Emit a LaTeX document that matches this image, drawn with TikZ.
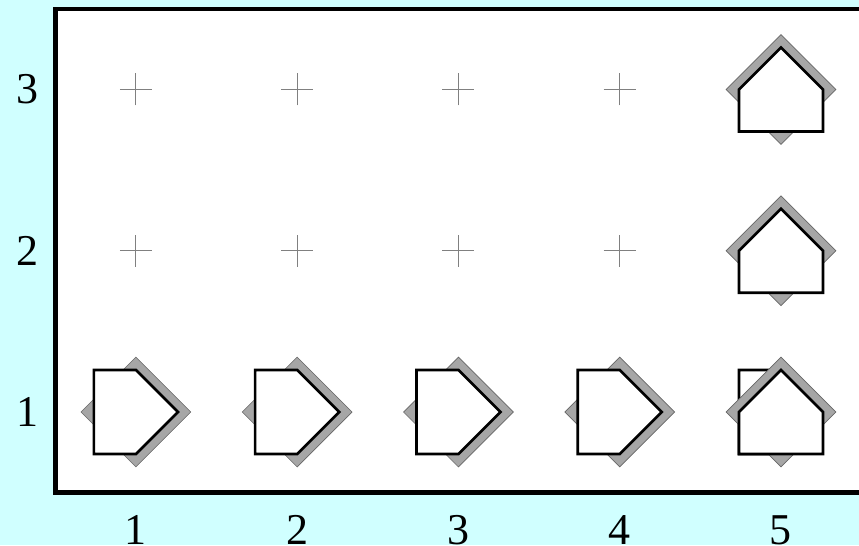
\documentclass[tikz,border=0pt]{standalone}
\usepackage{fontspec}
\setmainfont{Liberation Serif}
\usetikzlibrary{shapes.geometric}
\definecolor{bgcyan}{RGB}{208,255,255}
\definecolor{shade}{RGB}{166,166,166}

\begin{document}
\begin{tikzpicture}[
  x=161.25pt, y=161.25pt,
  board/.style={line width=4.5pt, fill=white},
  shadowbox/.style={diamond, draw=black!60, fill=shade, line width=0.6pt,
                    inner sep=0pt, minimum size=110pt},
  tick/.style={draw=black!50, line width=1pt},
  lab/.style={inner sep=0pt, font=\fontsize{44}{48}\selectfont},
  house/.pic={\draw[fill=white, line width=2.6pt, line join=miter]
    (-42pt,-42pt) -- (42pt,-42pt) -- (42pt,0pt) -- (0pt,42pt)
    -- (-42pt,0pt) -- cycle;}]
\useasboundingbox[fill=bgcyan] (0.157,0.175) rectangle (5.484,3.555);
\clip (0.157,0.175) rectangle (5.484,3.555);
\draw[board] (0.5,0.5) rectangle (5.6,3.5);
% empty cells
\foreach \i in {1,...,4}
  \foreach \j in {2,3}
    \draw[tick] (\i,\j) ++(-16pt,0) -- ++(32pt,0)
                (\i,\j) ++(0,-16pt) -- ++(0,32pt);
% bottom row, pointing right
\foreach \i in {1,...,4} {
  \node[shadowbox] (s\i1) at (\i,1) {};
  \pic[rotate=-90] at (\i,1) {house};
}
% last column, pointing up
\pic[rotate=-90] at (5,1) {house};
\foreach \j in {1,2,3} {
  \node[shadowbox] (s5\j) at (5,\j) {};
  \pic at (5,\j) {house};
}
% axis labels
\foreach \i in {1,...,5}
  \node[lab] (col\i) at (\i,0.268) {\i};
\foreach \j in {1,2,3}
  \node[lab] (row\j) at (0.33,\j) {\j};
\end{tikzpicture}
\end{document}
